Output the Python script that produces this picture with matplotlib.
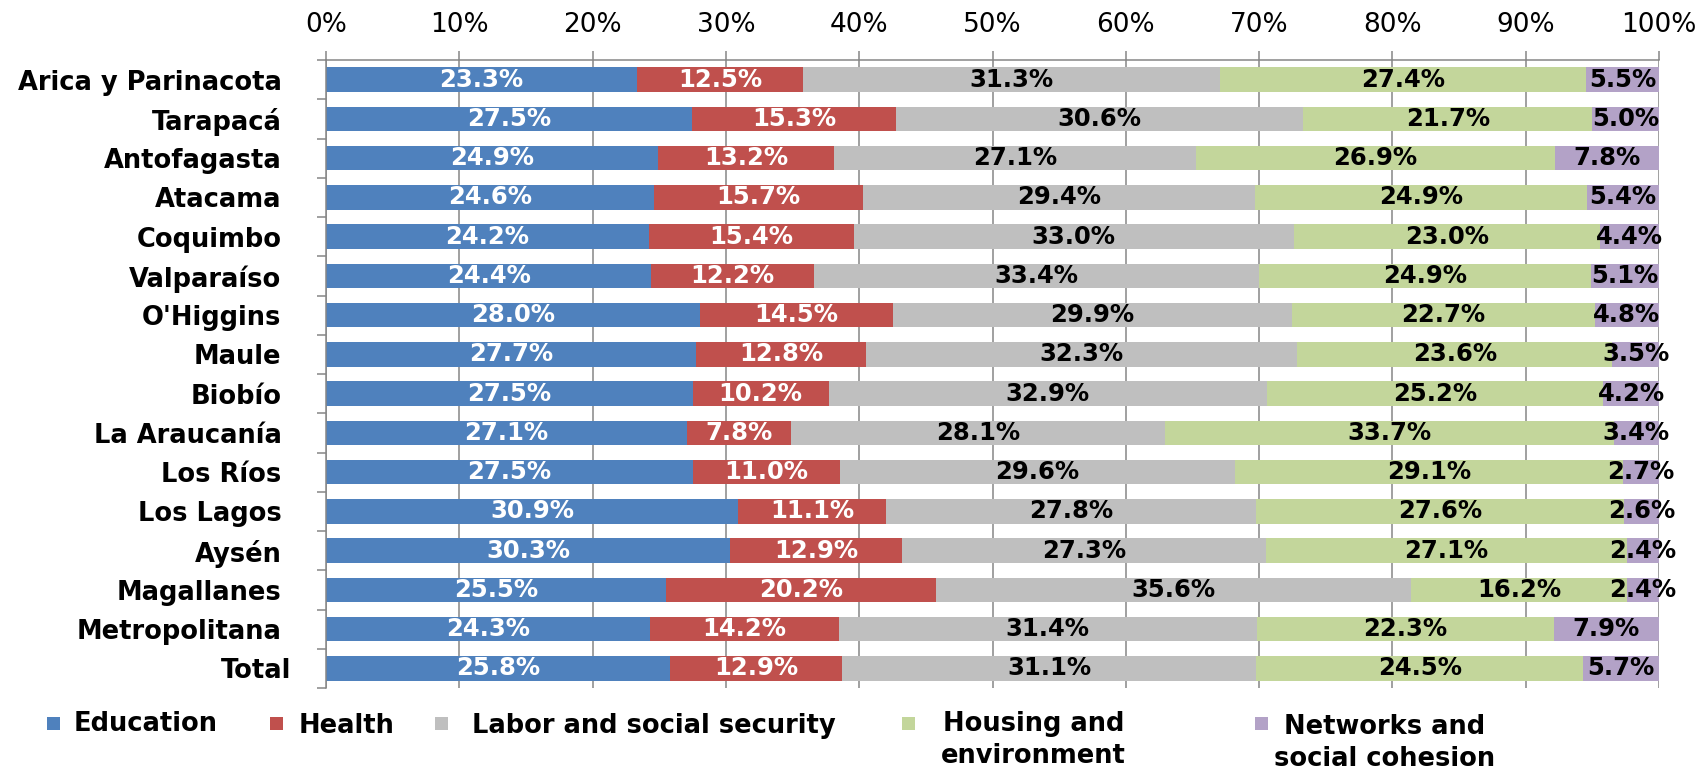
import matplotlib
matplotlib.use("Agg")
import matplotlib.pyplot as plt
import numpy as np
from matplotlib.patches import Rectangle
from matplotlib.transforms import ScaledTranslation

# ---------------- data ----------------
regions = ["Arica y Parinacota", "Tarapacá", "Antofagasta", "Atacama", "Coquimbo",
           "Valparaíso", "O'Higgins", "Maule", "Biobío", "La Araucanía", "Los Ríos",
           "Los Lagos", "Aysén", "Magallanes", "Metropolitana", "Total"]
education = [23.3, 27.5, 24.9, 24.6, 24.2, 24.4, 28.0, 27.7, 27.5, 27.1, 27.5, 30.9, 30.3, 25.5, 24.3, 25.8]
health = [12.5, 15.3, 13.2, 15.7, 15.4, 12.2, 14.5, 12.8, 10.2, 7.8, 11.0, 11.1, 12.9, 20.2, 14.2, 12.9]
labor = [31.3, 30.6, 27.1, 29.4, 33.0, 33.4, 29.9, 32.3, 32.9, 28.1, 29.6, 27.8, 27.3, 35.6, 31.4, 31.1]
housing = [27.4, 21.7, 26.9, 24.9, 23.0, 24.9, 22.7, 23.6, 25.2, 33.7, 29.1, 27.6, 27.1, 16.2, 22.3, 24.5]
networks = [5.5, 5.0, 7.8, 5.4, 4.4, 5.1, 4.8, 3.5, 4.2, 3.4, 2.7, 2.6, 2.4, 2.4, 7.9, 5.7]
series_names = ["Education", "Health", "Labor and social security",
                "Housing and\nenvironment", "Networks and\nsocial cohesion"]
x_ticks = [0, 10, 20, 30, 40, 50, 60, 70, 80, 90, 100]

# ---------------- style ----------------
colors = ["#4F81BD", "#C0504D", "#BFBFBF", "#C3D69B", "#B3A2C7"]
label_colors = ["white", "white", "black", "black", "black"]
grid_color = "#868686"
W, H = 1704, 769

fig = plt.figure(figsize=(W / 100, H / 100), dpi=100)
ax_l, ax_r, ax_t, ax_b = 326, 1659, 60, 688
ax = fig.add_axes([ax_l / W, 1 - ax_b / H, (ax_r - ax_l) / W, (ax_b - ax_t) / H])

data = np.array([education, health, labor, housing, networks])
shares = data / data.sum(axis=0) * 100
y = np.arange(len(regions))
left = np.zeros(len(regions))
for k in range(len(series_names)):
    bars = ax.barh(y, shares[k], left=left, height=0.62, color=colors[k],
                   label=series_names[k], zorder=2)
    ax.bar_label(bars, labels=[f"{v:.1f}%" for v in data[k]], label_type="center",
                 color=label_colors[k], fontsize=17.5, fontweight="bold", zorder=4)
    left += shares[k]

ax.set_xlim(0, 100)
ax.set_ylim(len(regions) - 0.5, -0.5)

ax.xaxis.tick_top()
ax.set_xticks(x_ticks)
ax.set_xticklabels([f"{t}%" for t in x_ticks])
ax.tick_params(axis="x", top=True, bottom=False, length=6.5, width=1.1,
               color=grid_color, labelsize=19, pad=9, labelcolor="black")
ax.grid(axis="x", color=grid_color, linewidth=1.1, zorder=0)
ax.set_axisbelow(True)

ax.set_yticks(y)
ax.set_yticklabels(regions, fontsize=18.5, fontweight="bold")
ax.tick_params(axis="y", which="major", length=0, pad=32)
ax.set_yticks(np.arange(-0.5, len(regions), 1), minor=True)
ax.tick_params(axis="y", which="minor", length=6.5, width=1.1, color=grid_color, left=True)

# the "Total" label sits a little further right in the original
last_lbl = ax.get_yticklabels()[-1]
last_lbl.set_transform(last_lbl.get_transform() + ScaledTranslation(0.10, 0, fig.dpi_scale_trans))

for s in ["right", "bottom"]:
    ax.spines[s].set_visible(False)
for s in ["left", "top"]:
    ax.spines[s].set_color(grid_color)
    ax.spines[s].set_linewidth(1.1)

# ---------------- legend (manual, Excel-like) ----------------
leg_marker_x = [47, 270, 435, 902, 1255]
leg_text_x = [74, 299, 472, 941, 1274]
leg_last_baseline = [731, 733, 733, 763, 766]
msize = 13
mcenter = 723
for k, name in enumerate(series_names):
    fig.add_artist(Rectangle((leg_marker_x[k] / W, 1 - (mcenter + msize / 2) / H),
                             msize / W, msize / H, transform=fig.transFigure,
                             facecolor=colors[k], edgecolor="none"))
    fig.text(leg_text_x[k] / W, 1 - leg_last_baseline[k] / H, name, fontsize=18.5,
             fontweight="bold", va="baseline", ha="left", multialignment="center",
             linespacing=1.3)

fig.savefig("out.png", dpi=100)
